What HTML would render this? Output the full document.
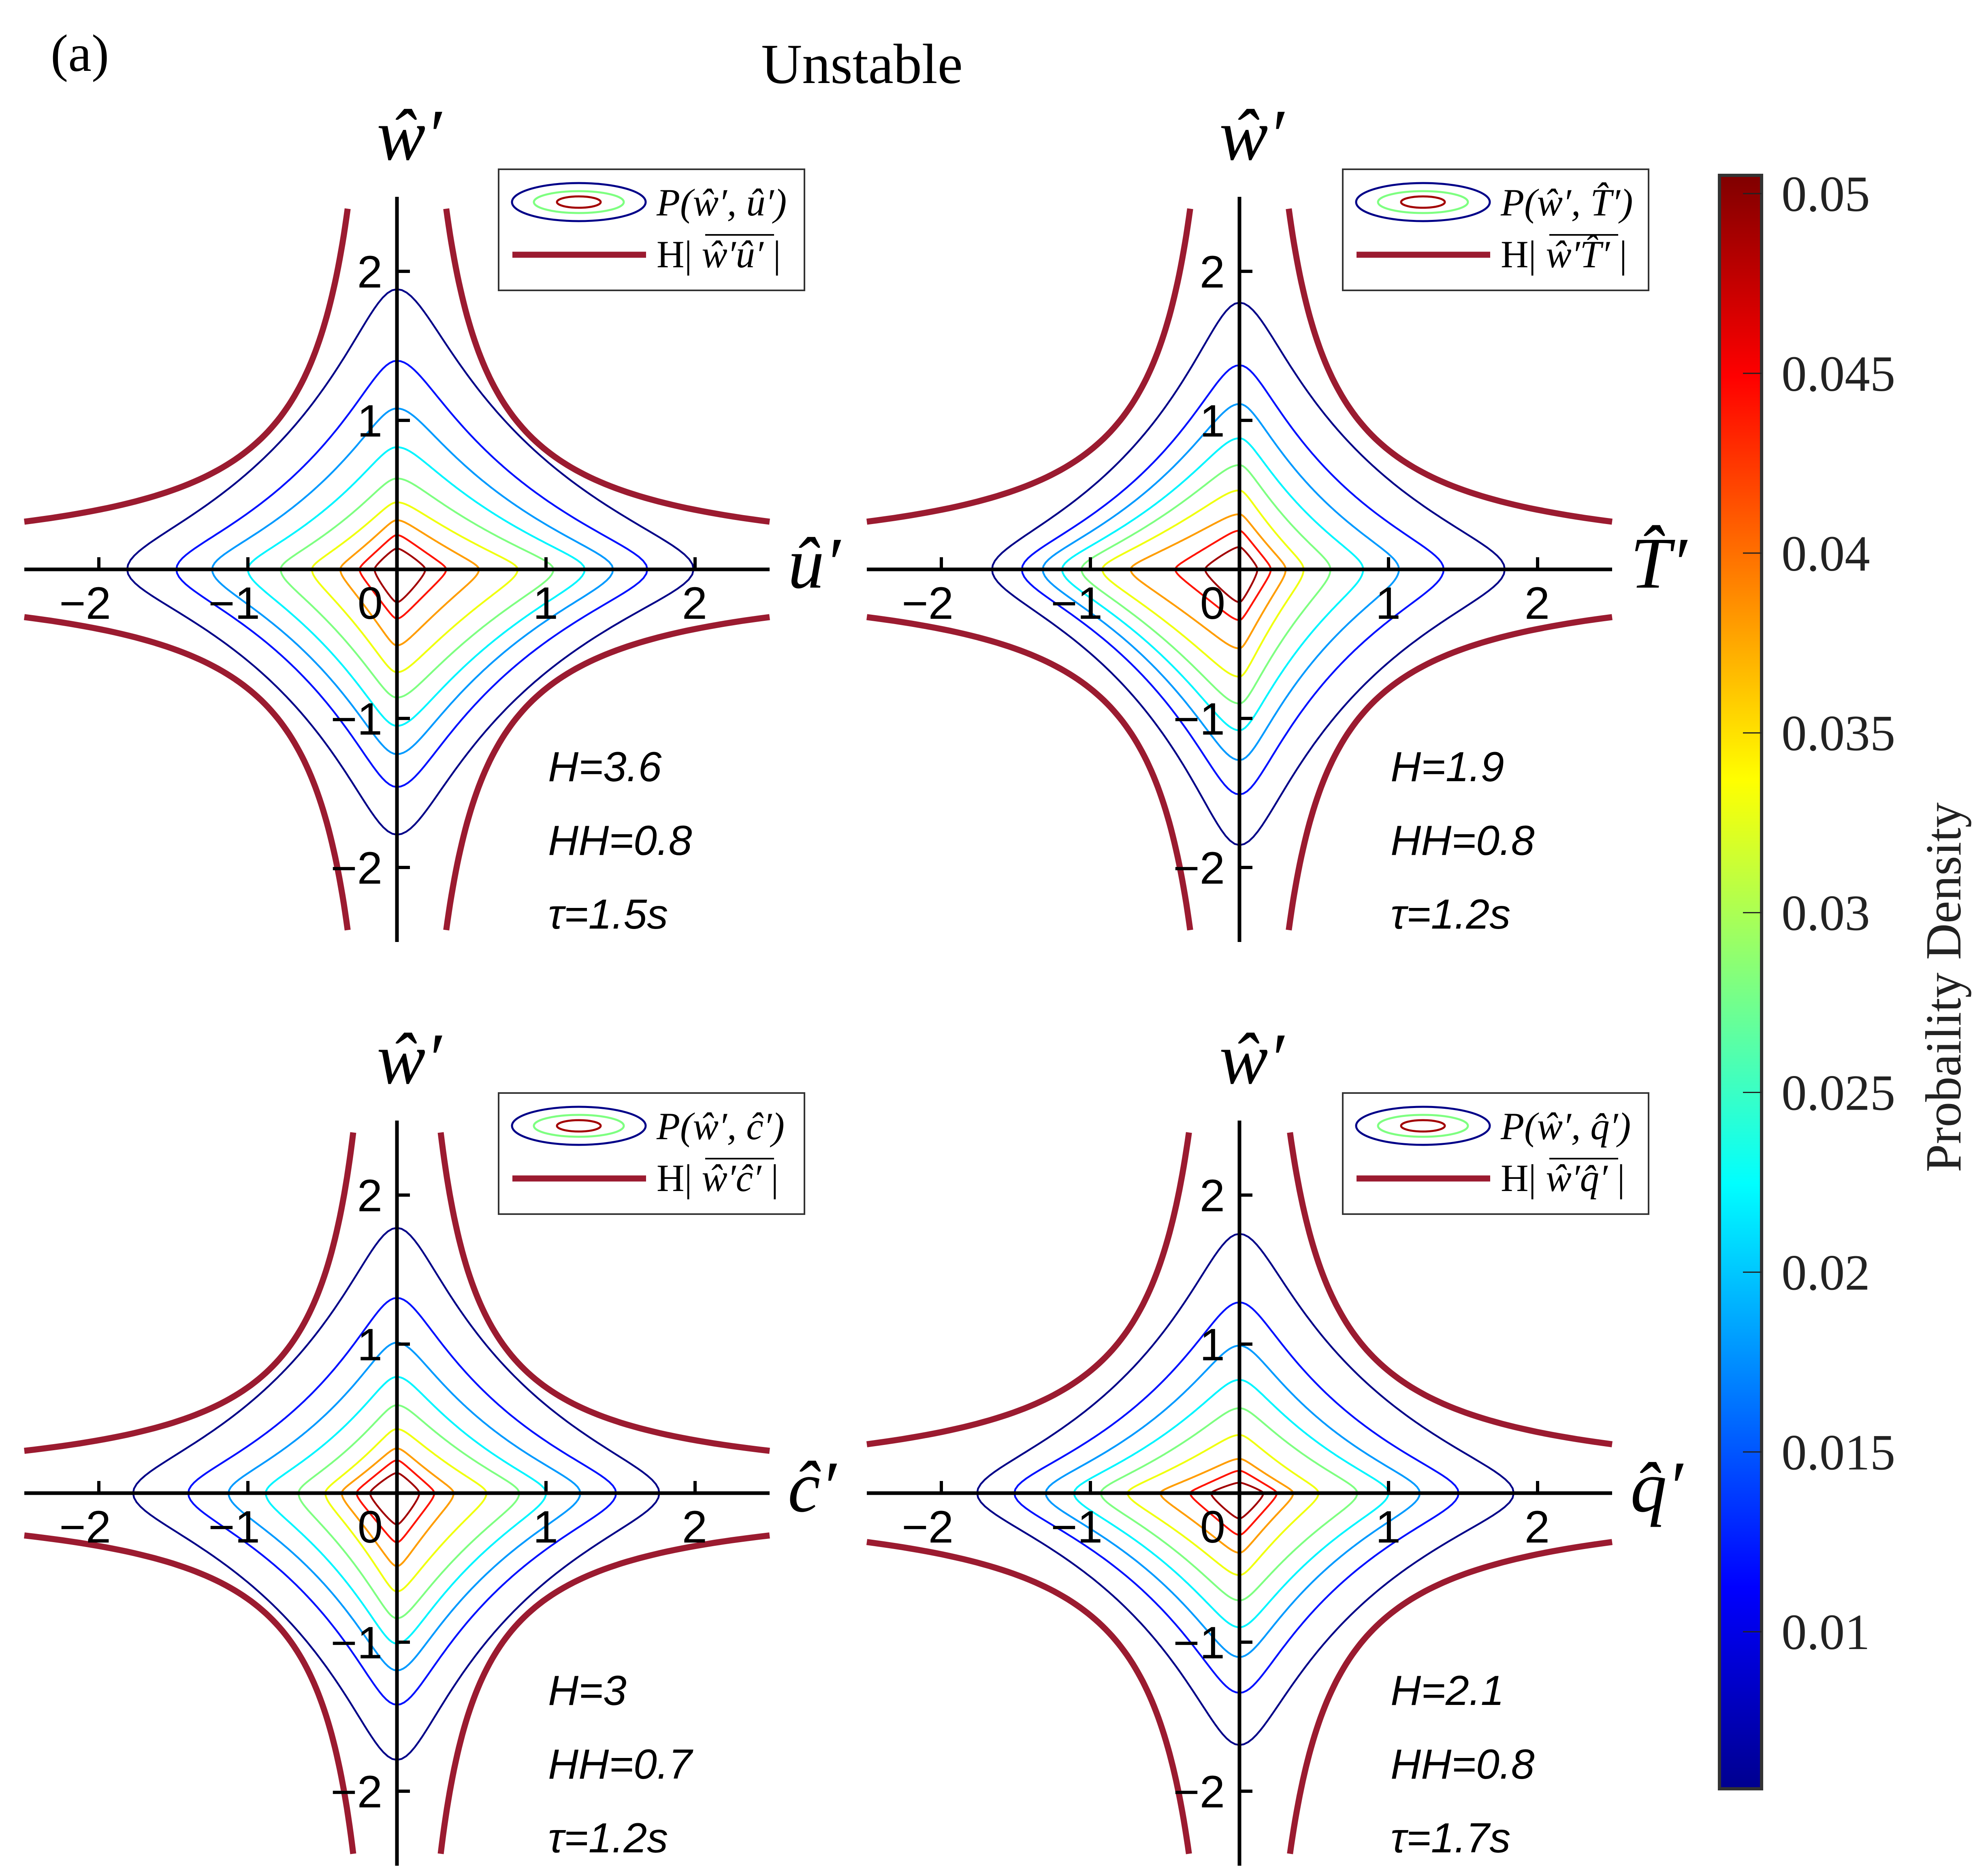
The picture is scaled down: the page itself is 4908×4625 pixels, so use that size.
<!DOCTYPE html>
<html><head><meta charset="utf-8"><style>
html,body{margin:0;padding:0;background:#fff}
svg{display:block}
.serif{font-family:"Liberation Serif",serif}
.sans{font-family:"Liberation Sans",sans-serif}
</style></head><body>
<svg id="fig" width="4908" height="4625" viewBox="0 0 4908 4625" xmlns="http://www.w3.org/2000/svg">
<defs>
<linearGradient id="jet" x1="0" y1="1" x2="0" y2="0">
<stop offset="0" stop-color="#00008f"/><stop offset="0.125" stop-color="#0000ff"/><stop offset="0.375" stop-color="#00ffff"/><stop offset="0.625" stop-color="#ffff00"/><stop offset="0.875" stop-color="#ff0000"/><stop offset="1" stop-color="#800000"/>
</linearGradient>
</defs>
<text x="125" y="175" class="serif" font-size="130">(a)</text>
<text x="2128" y="205" class="serif" font-size="140" text-anchor="middle">Unstable</text>
<g id="panels"></g>
<g id="cbar"></g>
</svg>
<script>
// ---- data ----
const levels = [0.006, 0.012, 0.018, 0.022, 0.028, 0.033, 0.038, 0.044, 0.049];
const cbarTicks = [0.01, 0.015, 0.02, 0.025, 0.03, 0.035, 0.04, 0.045, 0.05];
const cbarTickLabels = ['0.01','0.015','0.02','0.025','0.03','0.035','0.04','0.045','0.05'];
const axisTicks = [-2, -1, 0, 1, 2];
const panelNames = ['u', 'T', 'c', 'q'];
const xLabels = ['û′', 'T̂′', 'ĉ′', 'q̂′'];
const legendVars = ['û′', 'T̂′', 'ĉ′', 'q̂′'];
const hyperC = [0.8, 0.8, 0.71, 0.82];
const annH = ['H=3.6', 'H=1.9', 'H=3', 'H=2.1'];
const annHH = ['HH=0.8', 'HH=0.8', 'HH=0.7', 'HH=0.8'];
const annTau = ['τ=1.5s', 'τ=1.2s', 'τ=1.2s', 'τ=1.7s'];
const xPos1 = [1.99, 1.68, 1.45, 1.26, 1.05, 0.81, 0.55, 0.33, 0.19];
const xNeg1 = [1.81, 1.48, 1.24, 1.00, 0.78, 0.57, 0.38, 0.25, 0.15];
const yPos1 = [1.88, 1.40, 1.08, 0.82, 0.61, 0.45, 0.33, 0.23, 0.14];
const yNeg1 = [1.78, 1.46, 1.24, 1.05, 0.86, 0.69, 0.51, 0.33, 0.22];
const xPos2 = [1.78, 1.37, 1.07, 0.83, 0.61, 0.43, 0.31, 0.21, 0.12];
const xNeg2 = [1.66, 1.46, 1.32, 1.19, 1.06, 0.92, 0.73, 0.43, 0.23];
const yPos2 = [1.79, 1.37, 1.11, 0.88, 0.70, 0.53, 0.37, 0.26, 0.15];
const yNeg2 = [1.85, 1.51, 1.28, 1.08, 0.90, 0.72, 0.53, 0.34, 0.22];
const xPos3 = [1.76, 1.47, 1.23, 1.00, 0.82, 0.60, 0.38, 0.25, 0.15];
const xNeg3 = [1.77, 1.40, 1.13, 0.88, 0.66, 0.48, 0.37, 0.27, 0.18];
const yPos3 = [1.78, 1.31, 1.01, 0.78, 0.59, 0.43, 0.30, 0.22, 0.135];
const yNeg3 = [1.79, 1.42, 1.19, 1.01, 0.84, 0.66, 0.49, 0.33, 0.21];
const xPos4 = [1.84, 1.47, 1.21, 1.00, 0.79, 0.53, 0.36, 0.25, 0.16];
const xNeg4 = [1.76, 1.51, 1.30, 1.11, 0.93, 0.75, 0.53, 0.33, 0.19];
const yPos4 = [1.74, 1.28, 0.99, 0.76, 0.57, 0.39, 0.23, 0.15, 0.07];
const yNeg4 = [1.69, 1.34, 1.10, 0.90, 0.72, 0.55, 0.40, 0.28, 0.17];
const contourSets = [[xPos1,xNeg1,yPos1,yNeg1],[xPos2,xNeg2,yPos2,yNeg2],[xPos3,xNeg3,yPos3,yNeg3],[xPos4,xNeg4,yPos4,yNeg4]];

// ---- layout ----
const NS = 'http://www.w3.org/2000/svg';
const origins = [[980,1406],[3060,1406],[980,3687],[3060,3687]];
const U = 368;
const shapeP = [0.52,0.58,0.64,0.7,0.76,0.82,0.88,0.95,1.1];
const EPS = 0.12;
const cmin = 0.00563, cmax = 0.0505;
function clamp(v){return Math.max(0,Math.min(1,v));}
function jet(v){
  const t = (v-cmin)/(cmax-cmin);
  const r = clamp(1.5-Math.abs(4*t-3)), g = clamp(1.5-Math.abs(4*t-2)), b = clamp(1.5-Math.abs(4*t-1));
  return 'rgb('+Math.round(r*255)+','+Math.round(g*255)+','+Math.round(b*255)+')';
}
function hfun(u, p){
  const e0 = Math.pow(EPS, p);
  return (Math.pow(u*u+EPS*EPS, p/2) - e0) / (Math.pow(1+EPS*EPS, p/2) - e0);
}
function radius(c, s, a, b, p){
  let lo = 0, hi = 3*Math.max(a,b);
  for (let i = 0; i < 40; i++) {
    const r = (lo+hi)/2;
    const f = hfun(Math.abs(r*c)/a, p) + hfun(Math.abs(r*s)/b, p);
    if (f > 1) hi = r; else lo = r;
  }
  return (lo+hi)/2;
}
function mk(tag, attrs, parent){
  const e = document.createElementNS(NS, tag);
  for (const k in attrs) e.setAttribute(k, attrs[k]);
  parent.appendChild(e);
  return e;
}
const panelsG = document.getElementById('panels');
origins.forEach((o, pi) => {
  const g = mk('g', {}, panelsG);
  
  
  const X = v => o[0] + v*U, Y = v => o[1] - v*U;
  const cs = contourSets[pi];
  levels.forEach((lv, li) => {
    const ap = cs[0][li], an = cs[1][li], bp = cs[2][li], bn = cs[3][li];
    const p = shapeP[li];
    let d = '';
    const N = 360;
    for (let k = 0; k <= N; k++) {
      const th = k/N*2*Math.PI;
      const c = Math.cos(th), s = Math.sin(th);
      const a = c >= 0 ? ap : an, b = s >= 0 ? bp : bn;
      const r = radius(c, s, a, b, p);
      d += (k ? 'L' : 'M') + X(r*c).toFixed(1) + ',' + Y(r*s).toFixed(1);
    }
    const path = mk('path', {d: d+'Z', fill: 'none', stroke: jet(lv), 'stroke-width': 4.5, 'stroke-linejoin': 'round'}, g);
    
    
  });
  const c = hyperC[pi];
  [[1,1],[-1,1],[1,-1],[-1,-1]].forEach(([sx, sy], qi) => {
    let d = '';
    const x0 = c/2.42, x1 = 2.5;
    for (let k = 0; k <= 80; k++) {
      const x = x0*Math.pow(x1/x0, k/80);
      d += (k ? 'L' : 'M') + X(sx*x).toFixed(1) + ',' + Y(sy*c/x).toFixed(1);
    }
    const hp = mk('path', {d: d, fill: 'none', stroke: '#9b1b30', 'stroke-width': 15}, g);
    
    
  });
  const xa = mk('line', {x1: X(-2.5), y1: o[1], x2: X(2.5), y2: o[1], stroke: '#000', 'stroke-width': 9}, g);
  
  
  const ya = mk('line', {x1: o[0], y1: Y(2.5), x2: o[0], y2: Y(-2.5), stroke: '#000', 'stroke-width': 9}, g);
  
  
  axisTicks.forEach(t => {
    if (t !== 0) {
      mk('line', {x1: X(t), y1: o[1], x2: X(t), y2: o[1]-30, stroke: '#000', 'stroke-width': 8}, g);
      mk('line', {x1: o[0], y1: Y(t), x2: o[0]+32, y2: Y(t), stroke: '#000', 'stroke-width': 8}, g);
      const yl = mk('text', {x: o[0]-36, y: Y(t)+40, 'text-anchor': 'end', 'font-size': 112, class: 'sans'}, g);
      yl.textContent = t < 0 ? '−' + Math.abs(t) : String(t);
      
      
    }
    const xl = mk('text', {x: X(t) + 30 + (t === 0 ? -65 : 0), y: o[1]+122, 'text-anchor': 'end', 'font-size': 112, class: 'sans'}, g);
    xl.textContent = t < 0 ? '−' + Math.abs(t) : String(t);
    
    
  });
  const yt = mk('text', {x: o[0]+30, y: o[1]-1012, 'text-anchor': 'middle', 'font-size': 180, 'font-style': 'italic', class: 'serif'}, g);
  yt.textContent = 'ŵ′';
  
  
  const xt = mk('text', {x: o[0]+965, y: o[1]+45, 'font-size': 180, 'font-style': 'italic', class: 'serif'}, g);
  xt.textContent = xLabels[pi];
  
  
  [annH[pi], annHH[pi], annTau[pi]].forEach((s, k) => {
    const a = mk('text', {x: o[0] + 373, y: o[1] + 523 + k*182, 'font-size': 104, 'font-style': 'italic', class: 'sans'}, g);
    a.textContent = s;
    
    
  });
  const lx = o[0] + (pi % 2 ? 255 : 251), ly = o[1] - 988;
  const lg = mk('g', {}, g);
  
  
  mk('rect', {x: lx, y: ly, width: 755, height: 299, fill: '#fff', stroke: '#333', 'stroke-width': 4}, lg);
  mk('ellipse', {cx: lx+198, cy: ly+81, rx: 165, ry: 47, fill: 'none', stroke: jet(levels[0]), 'stroke-width': 5}, lg);
  mk('ellipse', {cx: lx+198, cy: ly+81, rx: 111, ry: 27, fill: 'none', stroke: jet(levels[4]), 'stroke-width': 5}, lg);
  mk('ellipse', {cx: lx+198, cy: ly+81, rx: 54, ry: 14, fill: 'none', stroke: jet(levels[8]), 'stroke-width': 5}, lg);
  mk('line', {x1: lx+34, y1: ly+211, x2: lx+364, y2: ly+211, stroke: '#9b1b30', 'stroke-width': 15}, lg);
  const t1 = mk('text', {x: lx+390, y: ly+114, 'font-size': 95, 'font-style': 'italic', class: 'serif'}, lg);
  t1.textContent = 'P(ŵ′, ' + legendVars[pi] + ')';
  
  
  const t2 = mk('text', {x: lx+390, y: ly+242, 'font-size': 95, class: 'serif'}, lg);
  t2.textContent = 'H| ';
  const ts = mk('tspan', {'font-style': 'italic'}, t2);
  ts.textContent = 'ŵ′' + legendVars[pi];
  const ts2 = mk('tspan', {}, t2);
  ts2.textContent = '  |';
  
  
  mk('line', {x1: lx+510, y1: ly+162, x2: lx+680, y2: ly+162, stroke: '#000', 'stroke-width': 4}, lg);
});
const cb = document.getElementById('cbar');
const cbTop = 433, cbBot = 4417, cbL = 4245, cbR = 4349;
const CY = v => 478 + (0.05 - v)/0.005*443.9;
const cr = mk('rect', {x: cbL, y: cbTop, width: cbR-cbL, height: cbBot-cbTop, fill: 'url(#jet)', stroke: '#333', 'stroke-width': 8}, cb);


cbarTicks.forEach((v, i) => {
  mk('line', {x1: 4303, y1: CY(v), x2: cbR, y2: CY(v), stroke: '#222', 'stroke-width': 3}, cb);
  const t = mk('text', {x: 4398, y: CY(v)+43, 'font-size': 125, class: 'serif', fill: '#222'}, cb);
  t.textContent = cbarTickLabels[i];
  
  
});
const cbt = mk('text', {x: 0, y: 0, 'font-size': 125, class: 'serif', fill: '#222', 'text-anchor': 'middle', transform: 'translate(4840,2438) rotate(-90)'}, cb);
cbt.textContent = 'Probaility Density';


</script>
</body></html>
